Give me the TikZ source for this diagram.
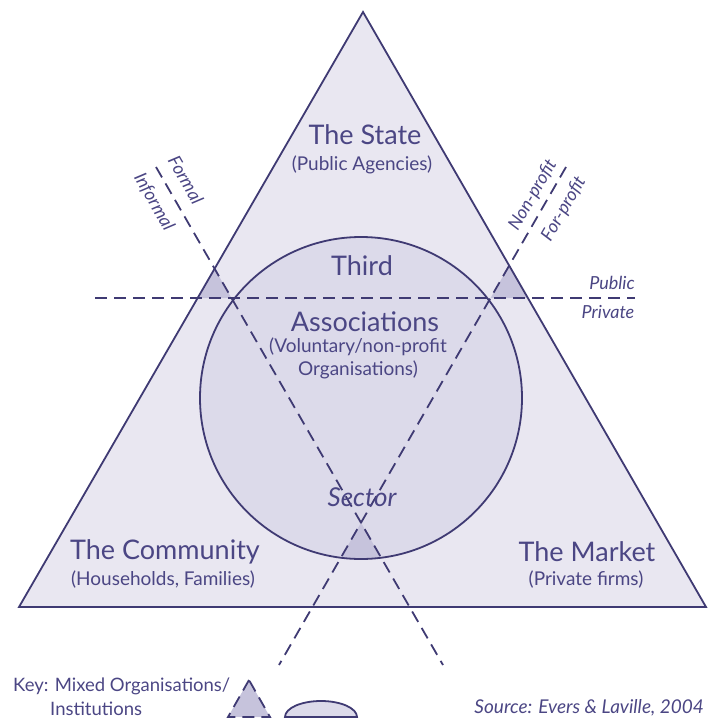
\documentclass[tikz,border=0pt]{standalone}
\usepackage{fontspec}
\setmainfont{Lato}
\usepackage{xcolor}
\definecolor{ink}{HTML}{3F3A73}
\definecolor{txt}{HTML}{4B4684}
\definecolor{trifill}{HTML}{E9E7F1}
\definecolor{discfill}{HTML}{DCDAEA}
\definecolor{mixfill}{HTML}{C6C3DC}

\begin{document}
\begin{tikzpicture}[x=1pt,y=-1pt,
    line/.style={draw=ink,line width=1.8pt},
    divide/.style={draw=ink,line width=1.8pt,dash pattern=on 12pt off 7pt},
    big/.style={text=txt,font=\fontsize{27}{30}\selectfont},
    small/.style={text=txt,font=\fontsize{19}{23}\selectfont},
    lab/.style={text=txt,font=\fontsize{18}{21}\selectfont\itshape,inner sep=1pt}]
        \useasboundingbox (0,0) rectangle (707,719);
        % triangle and circle
        \coordinate (top) at (363,12);
        \coordinate (bl) at (19,607);
        \coordinate (br) at (706,607);
        \coordinate (c) at (361,398);
        % dividing lines
        \coordinate (hl) at (95,298);
        \coordinate (hr) at (635,298);
        \coordinate (al) at (156,167);
        \coordinate (ar) at (566,167);
        \coordinate (zl) at (443,665);
        \coordinate (zr) at (279,665);
        \coordinate (pl) at (intersection of al--zl and hl--hr);
        \coordinate (pr) at (intersection of ar--zr and hl--hr);
        \coordinate (cross) at (intersection of al--zl and ar--zr);

        \fill[trifill] (top) -- (bl) -- (br) -- cycle;
        \fill[discfill] (c) circle (161);
        % mixed organisations
        \begin{scope}
            \clip (top) -- (bl) -- (br) -- cycle;
            \fill[mixfill] (al) -- (pl) -- (hl) -- cycle;
            \fill[mixfill] (ar) -- (pr) -- (hr) -- cycle;
        \end{scope}
        \begin{scope}
            \clip (c) circle (161);
            \fill[mixfill] (cross) -- (zl) -- (zr) -- cycle;
        \end{scope}

        \draw[line,line join=miter] (top) -- (bl) -- (br) -- cycle;
        \draw[line] (c) circle (161);
        \draw[divide] (hl) -- (hr);
        \draw[divide] (al) -- (zl);
        \draw[divide] (ar) -- (zr);

        % labels
        \node[big] (state) at (365,135) {The State};
        \node[small] (stateSub) at (362,165) {(Public Agencies)};
        \node[big] (third) at (362,266) {Third};
        \node[big] (assoc) at (365,322) {Associations};
        \node[small,align=center] (assocSub) at (358,358) {(Voluntary/non-profit\\Organisations)};
        \node[big,font=\fontsize{26}{29}\selectfont\itshape] (sector) at (362,497) {Sector};
        \node[big] (community) at (165,552) {The Community};
        \node[small] (communitySub) at (163,580) {(Households, Families)};
        \node[big] (market) at (587,552) {The Market};
        \node[small] (marketSub) at (586,580) {(Private firms)};
        \node[lab] (public) at (612,283) {Public};
        \node[lab] (private) at (608,312) {Private};
        \node[lab,rotate=-60] (formal) at (186,180) {Formal};
        \node[lab,rotate=-60] (informal) at (154,202) {Informal};
        \node[lab,rotate=60] (nonprofit) at (533,195) {Non-profit};
        \node[lab,rotate=60] (forprofit) at (564,209) {For-profit};

        % key
        \node[small,font=\fontsize{18.5}{21}\selectfont,anchor=west,inner sep=1pt] (key) at (12,686) {Key: Mixed Organisations/};
        \node[small,font=\fontsize{18.5}{21}\selectfont,anchor=west,inner sep=1pt] (inst) at (49,709) {Institutions};
        \filldraw[fill=mixfill,divide] (249,680) -- (228,717) -- (270,717) -- cycle;
        \filldraw[fill=discfill,line] (285,717) arc[start angle=180,end angle=360,x radius=36,y radius=16] -- cycle;
        \node[lab,font=\fontsize{19}{22}\selectfont\itshape,anchor=east] (source) at (705,708) {Source: Evers \& Laville, 2004};
    \end{tikzpicture}
\end{document}
